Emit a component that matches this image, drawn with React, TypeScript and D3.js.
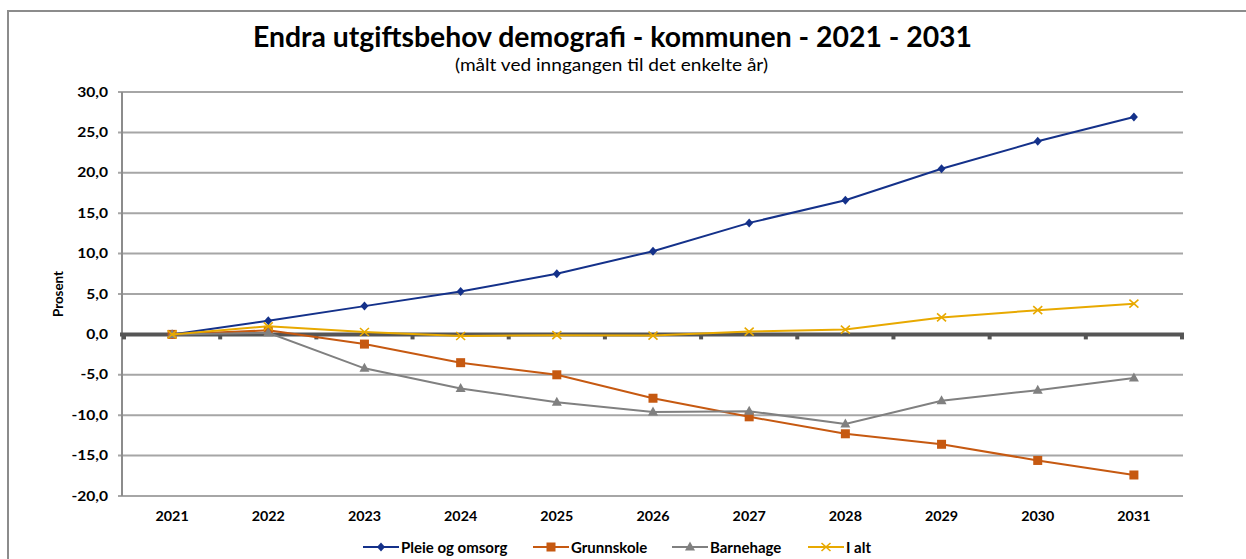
import React, { useEffect, useRef } from "react";
import * as d3 from "d3";

const years = ["2021", "2022", "2023", "2024", "2025", "2026", "2027", "2028", "2029", "2030", "2031"];
const pleie = [0, 1.7, 3.5, 5.3, 7.5, 10.3, 13.8, 16.6, 20.5, 23.9, 26.9];
const grunnskole = [0, 0.5, -1.2, -3.5, -5.0, -7.9, -10.2, -12.3, -13.6, -15.6, -17.4];
const barnehage = [0, 0.2, -4.2, -6.7, -8.4, -9.6, -9.5, -11.1, -8.2, -6.9, -5.4];
const ialt = [0, 1.0, 0.3, -0.2, -0.1, -0.15, 0.35, 0.6, 2.1, 3.0, 3.8];
const yTicks = [30, 25, 20, 15, 10, 5, 0, -5, -10, -15, -20];

const seriesNames = ["Pleie og omsorg", "Grunnskole", "Barnehage", "I alt"];
const seriesColors = ["#14318a", "#c65911", "#808080", "#e8a900"];
const seriesMarkers = ["diamond", "square", "triangle", "x"];
const seriesValues = [pleie, grunnskole, barnehage, ialt];

const W = 1246;
const H = 559;
const FONT = "Lato, 'Open Sans', sans-serif";

function drawMarker(g: any, type: string, x: number, y: number, color: string) {
  if (type === "diamond") {
    g.append("path")
      .attr("d", `M${x},${y - 4.5}L${x + 4},${y}L${x},${y + 4.5}L${x - 4},${y}Z`)
      .attr("fill", color);
  } else if (type === "square") {
    g.append("rect").attr("x", x - 4.5).attr("y", y - 4.5).attr("width", 9).attr("height", 9).attr("fill", color);
  } else if (type === "triangle") {
    g.append("path")
      .attr("d", `M${x},${y - 5.5}L${x + 5},${y + 3.5}L${x - 5},${y + 3.5}Z`)
      .attr("fill", color);
  } else {
    g.append("path")
      .attr("d", `M${x - 4.5},${y - 4}L${x + 4.5},${y + 4}M${x - 4.5},${y + 4}L${x + 4.5},${y - 4}`)
      .attr("stroke", color)
      .attr("stroke-width", 1.6)
      .attr("fill", "none");
  }
}

export default function App() {
  const ref = useRef<SVGSVGElement>(null);

  useEffect(() => {
    const svg = d3.select(ref.current);
    svg.selectAll("*").remove();

    const left = 124;
    const right = 1182;
    const top = 92;
    const bottom = 496;

    const x = d3.scaleBand<string>().domain(years).range([left, right]);
    const y = d3.scaleLinear().domain([-20, 30]).range([bottom, top]);
    const cx = (d: string) => (x(d) as number) + x.bandwidth() / 2;

    // outer border
    svg.append("rect").attr("x", 8).attr("y", 11).attr("width", W + 20).attr("height", H + 20)
      .attr("fill", "none").attr("stroke", "#8c8c8c").attr("stroke-width", 2);

    // title
    svg.append("text").attr("x", 612.5).attr("y", 47).attr("text-anchor", "middle")
      .attr("font-family", FONT).attr("font-weight", "bold").attr("font-size", 28).attr("fill", "#000")
      .attr("textLength", 719).attr("lengthAdjust", "spacingAndGlyphs")
      .text("Endra utgiftsbehov demografi - kommunen - 2021 - 2031");
    svg.append("text").attr("x", 611.5).attr("y", 71).attr("text-anchor", "middle")
      .attr("font-family", FONT).attr("font-size", 17).attr("fill", "#000")
      .attr("textLength", 313).attr("lengthAdjust", "spacingAndGlyphs")
      .text("(målt ved inngangen til det enkelte år)");

    // gridlines
    const grid = svg.append("g");
    yTicks.forEach((t) => {
      if (t === 0) return;
      grid.append("line").attr("x1", 118).attr("x2", right + 1).attr("y1", y(t)).attr("y2", y(t))
        .attr("stroke", "#a6a6a6").attr("stroke-width", 2);
    });

    // y axis line
    svg.append("line").attr("x1", 122).attr("x2", 122).attr("y1", top).attr("y2", bottom)
      .attr("stroke", "#8c8c8c").attr("stroke-width", 2);

    // y tick labels
    yTicks.forEach((t) => {
      svg.append("text")
        .attr("transform", `translate(108,${y(t)}) scale(1.2,1)`)
        .attr("dy", "0.35em").attr("text-anchor", "end")
        .attr("font-family", FONT).attr("font-weight", "bold").attr("font-size", 13).attr("fill", "#000")
        .text(d3.format(".1f")(t).replace(".", ",").replace("−", "-"));
    });

    // y axis title
    svg.append("text").attr("transform", `translate(63,${(top + bottom) / 2}) rotate(-90)`)
      .attr("text-anchor", "middle").attr("font-family", FONT).attr("font-weight", "bold")
      .attr("font-size", 14).attr("fill", "#000")
      .attr("textLength", 46).attr("lengthAdjust", "spacingAndGlyphs")
      .text("Prosent");

    // zero axis
    svg.append("line").attr("x1", 120).attr("x2", right + 2).attr("y1", y(0)).attr("y2", y(0))
      .attr("stroke", "#555555").attr("stroke-width", 4);
    years.concat(["end"]).forEach((yr, i) => {
      const tx = i < years.length ? (x(yr) as number) : right;
      svg.append("rect").attr("x", tx - 2).attr("y", y(0)).attr("width", 4).attr("height", 5)
        .attr("fill", "#555555");
    });

    // x labels
    years.forEach((yr) => {
      svg.append("text")
        .attr("transform", `translate(${cx(yr)},521) scale(1.1,1)`)
        .attr("text-anchor", "middle")
        .attr("font-family", FONT).attr("font-weight", "bold").attr("font-size", 13).attr("fill", "#000")
        .text(yr);
    });

    // series lines
    const line = d3.line<number>().x((_, i) => cx(years[i])).y((v) => y(v));
    seriesValues.forEach((vals, si) => {
      const g = svg.append("g");
      g.append("path").attr("d", line(vals) as string).attr("fill", "none")
        .attr("stroke", seriesColors[si]).attr("stroke-width", 2);
      vals.forEach((v, i) => drawMarker(g, seriesMarkers[si], cx(years[i]), y(v), seriesColors[si]));
    });

    // legend
    const legendStarts = [363, 533, 672, 808];
    const ly = 547;
    seriesNames.forEach((name, si) => {
      const g = svg.append("g");
      const lx = legendStarts[si];
      g.append("line").attr("x1", lx).attr("x2", lx + 36).attr("y1", ly).attr("y2", ly)
        .attr("stroke", seriesColors[si]).attr("stroke-width", 2);
      drawMarker(g, seriesMarkers[si], lx + 18, ly, seriesColors[si]);
      g.append("text").attr("x", lx + 38).attr("y", ly).attr("dy", "0.38em")
        .attr("font-family", FONT).attr("font-weight", "bold").attr("font-size", 15).attr("fill", "#000")
        .text(name);
    });
  }, []);

  return (
    <svg
      ref={ref}
      width={W}
      height={H}
      style={{ position: "absolute", left: 0, top: 0, background: "#fff", display: "block" }}
    />
  );
}
